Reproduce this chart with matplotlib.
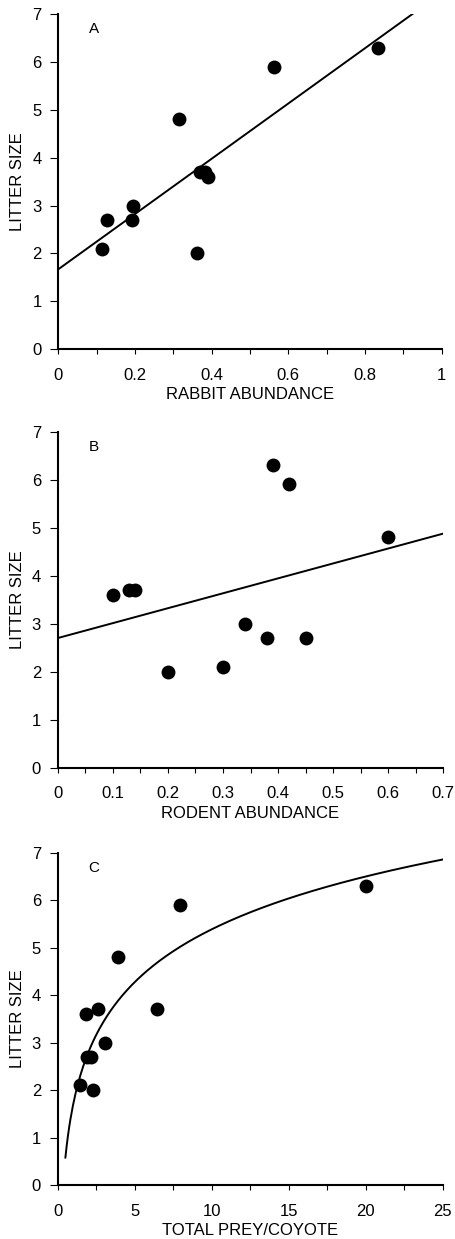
import numpy as np
import matplotlib
matplotlib.use("Agg")
import matplotlib.pyplot as plt
from matplotlib.ticker import MultipleLocator

plt.rcParams['font.family'] = ['Liberation Sans', 'DejaVu Sans']

# Panel A: rabbit abundance vs litter size
rabbit_x = [0.115, 0.128, 0.191, 0.195, 0.315, 0.361, 0.370, 0.382, 0.391, 0.563, 0.835]
rabbit_y = [2.1, 2.7, 2.7, 3.0, 4.8, 2.0, 3.7, 3.7, 3.6, 5.9, 6.3]
rabbit_fit = (1.67, 5.77)        # intercept, slope
rabbit_fit_range = (0.0, 0.926)

# Panel B: rodent abundance vs litter size
rodent_x = [0.10, 0.13, 0.14, 0.20, 0.30, 0.34, 0.38, 0.39, 0.42, 0.45, 0.60]
rodent_y = [3.6, 3.7, 3.7, 2.0, 2.1, 3.0, 2.7, 6.3, 5.9, 2.7, 4.8]
rodent_fit = (2.70, 3.11)        # intercept, slope
rodent_fit_range = (0.0, 0.70)

# Panel C: total prey per coyote vs litter size (logarithmic fit)
prey_x = [1.45, 1.84, 1.93, 2.14, 2.32, 2.62, 3.10, 3.90, 6.47, 7.92, 20.04]
prey_y = [2.1, 3.6, 2.7, 2.7, 2.0, 3.7, 3.0, 4.8, 3.7, 5.9, 6.3]
prey_fit = (1.69, 1.605)         # y = a + b*ln(x)
prey_fit_range = (0.5, 25.0)

panel_letters = ["A", "B", "C"]
xlabels = ["RABBIT ABUNDANCE", "RODENT ABUNDANCE", "TOTAL PREY/COYOTE"]
ylabel = "LITTER SIZE"

fig = plt.figure(figsize=(4.55, 12.39), dpi=100)

rects = [
    [0.1281, 0.7181, 0.8427, 0.2706],
    [0.1268, 0.3804, 0.8475, 0.2712],
    [0.1268, 0.0436, 0.8462, 0.2682],
]

specs = [
    dict(x=rabbit_x, y=rabbit_y, xlim=(0, 1), major=0.2, minor=0.1),
    dict(x=rodent_x, y=rodent_y, xlim=(0, 0.7), major=0.1, minor=0.05),
    dict(x=prey_x, y=prey_y, xlim=(0, 25), major=5, minor=2.5),
]

for i, (rect, sp) in enumerate(zip(rects, specs)):
    ax = fig.add_axes(rect)
    ax.scatter(sp['x'], sp['y'], s=100, color='black', zorder=3, linewidths=0, clip_on=False)
    if i == 0:
        xs = np.linspace(*rabbit_fit_range, 50)
        ax.plot(xs, rabbit_fit[0] + rabbit_fit[1] * xs, color='black', lw=1.4)
    elif i == 1:
        xs = np.linspace(*rodent_fit_range, 50)
        ax.plot(xs, rodent_fit[0] + rodent_fit[1] * xs, color='black', lw=1.4)
    else:
        xs = np.linspace(*prey_fit_range, 300)
        ax.plot(xs, prey_fit[0] + prey_fit[1] * np.log(xs), color='black', lw=1.4)

    ax.set_xlim(*sp['xlim'])
    ax.set_ylim(0, 7)
    ax.xaxis.set_major_locator(MultipleLocator(sp['major']))
    ax.xaxis.set_minor_locator(MultipleLocator(sp['minor']))
    ax.yaxis.set_major_locator(MultipleLocator(1))
    ax.xaxis.set_major_formatter(plt.FuncFormatter(lambda v, p: f"{round(v, 6):g}"))
    for s in ['top', 'right']:
        ax.spines[s].set_visible(False)
    for s in ['left', 'bottom']:
        ax.spines[s].set_linewidth(1.5)
    ax.tick_params(axis='x', which='both', direction='out', length=3.5, width=0.8,
                   labelsize=12, pad=10)
    ax.tick_params(axis='y', which='both', direction='out', length=5.5, width=0.8,
                   labelsize=12, pad=6.5)
    ax.set_xlabel(xlabels[i], fontsize=12, labelpad=3)
    ax.set_ylabel(ylabel, fontsize=12, labelpad=5)
    ax.text(0.08, 0.975, panel_letters[i], transform=ax.transAxes, fontsize=11,
            va='top', ha='left')

fig.savefig("out.png", dpi=100)
